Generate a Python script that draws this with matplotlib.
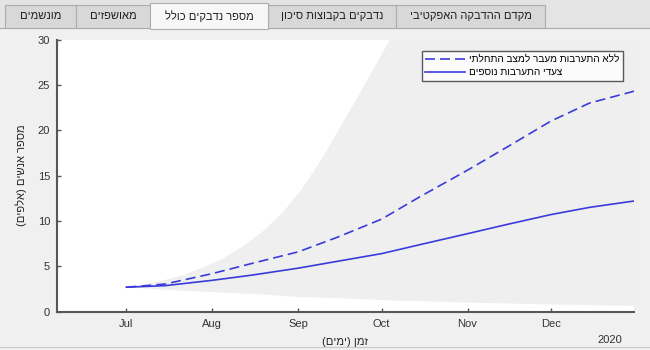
import datetime as dt
import matplotlib
matplotlib.use("Agg")
import matplotlib.pyplot as plt
import matplotlib.dates as mdates
from matplotlib.patches import Rectangle
from matplotlib.lines import Line2D

plt.rcParams['font.family'] = ['Liberation Sans', 'DejaVu Sans']

# model output, thousands of people
dates = [dt.date(2020, 7, 1), dt.date(2020, 7, 15), dt.date(2020, 8, 1), dt.date(2020, 8, 15),
         dt.date(2020, 9, 1), dt.date(2020, 9, 15), dt.date(2020, 10, 1), dt.date(2020, 10, 15),
         dt.date(2020, 11, 1), dt.date(2020, 11, 15), dt.date(2020, 12, 1), dt.date(2020, 12, 15),
         dt.date(2020, 12, 31)]
no_action = [2.7, 3.05, 4.2, 5.3, 6.6, 8.2, 10.2, 12.7, 15.6, 18.1, 21.0, 23.0, 24.3]
with_measures = [2.7, 2.87, 3.46, 4.02, 4.8, 5.55, 6.4, 7.4, 8.6, 9.6, 10.7, 11.5, 12.2]

band_dates = [dt.date(2020, 7, 1), dt.date(2020, 7, 8), dt.date(2020, 7, 15), dt.date(2020, 7, 22),
              dt.date(2020, 7, 29), dt.date(2020, 8, 5), dt.date(2020, 8, 12), dt.date(2020, 8, 19),
              dt.date(2020, 8, 26), dt.date(2020, 9, 2), dt.date(2020, 9, 9), dt.date(2020, 9, 16),
              dt.date(2020, 9, 23), dt.date(2020, 9, 30), dt.date(2020, 10, 7), dt.date(2020, 11, 1),
              dt.date(2020, 12, 1), dt.date(2020, 12, 31)]
band_hi = [2.7, 3.0, 3.5, 4.1, 4.9, 5.9, 7.2, 8.8, 10.8, 13.4, 16.6, 20.3, 24.0, 27.8, 31.6, 46.0, 64.0, 82.0]
band_lo = [2.7, 2.55, 2.42, 2.3, 2.2, 2.1, 2.0, 1.9, 1.75, 1.6, 1.55, 1.48, 1.4, 1.3, 1.22, 1.0, 0.8, 0.65]

tabs = ['מונשמים', 'מאושפזים', 'מספר נדבקים כולל', 'נדבקים בקבוצות סיכון', 'מקדם ההדבקה האפקטיבי']
tab_edges = [5, 76, 150, 268, 396, 545]
active_tab = 2

labels = ['ללא התערבות מעבר למצב התחלתי', 'צעדי התערבות נוספים']
ylabel = 'מספר אנשים (אלפים)'
xlabel = 'זמן (ימים)'

W, H = 650, 350
BG = '#f0f0f0'
BLUE = '#3b3bdc'


def rtl(s):
    # matplotlib lays text out left to right, so flip Hebrew into visual order
    swap = {'(': ')', ')': '('}
    return ''.join(swap.get(c, c) for c in reversed(s))


def fx(px):
    return px / W


def fy(py):
    return 1 - py / H


fig = plt.figure(figsize=(6.5, 3.5), dpi=100, facecolor=BG)

# tab strip
fig.add_artist(Rectangle((fx(0), fy(28)), fx(650), 28 / H, facecolor='#e4e4e4',
                         edgecolor='none', transform=fig.transFigure))
fig.add_artist(Line2D([fx(0), fx(650)], [fy(28), fy(28)], color='#acacac', lw=0.8,
                      transform=fig.transFigure))
for i, name in enumerate(tabs):
    x0, x1 = tab_edges[i], tab_edges[i + 1]
    sel = i == active_tab
    top = 3 if sel else 5
    bottom = 29 if sel else 28
    fig.add_artist(Rectangle((fx(x0), fy(bottom)), fx(x1 - x0), (bottom - top) / H,
                             facecolor='#f7f7f7' if sel else '#d8d8d8',
                             edgecolor='#acacac', lw=0.8, transform=fig.transFigure,
                             zorder=3 if sel else 2))
    fig.text(fx((x0 + x1) / 2), fy(16), rtl(name), ha='center', va='center',
             fontsize=8, color='#1e1e1e', zorder=4)

ax = fig.add_axes([fx(57), fy(311.7), fx(634 - 57), (311.7 - 39.5) / H])
ax.set_facecolor('white')

ax.fill_between(band_dates, band_lo, band_hi, color='#efefef', lw=0)
ax.plot(dates, no_action, color=BLUE, lw=1.2, ls=(0, (6, 3)), label=rtl(labels[0]))
ax.plot(dates, with_measures, color=BLUE, lw=1.2, label=rtl(labels[1]))

ax.set_xlim(dt.date(2020, 6, 6), dt.date(2020, 12, 31))
ax.set_ylim(0, 30)
ax.set_yticks(range(0, 31, 5))
ax.xaxis.set_major_locator(mdates.MonthLocator(bymonth=range(7, 13)))
ax.xaxis.set_major_formatter(mdates.DateFormatter('%b'))

for side in ['top', 'right']:
    ax.spines[side].set_visible(False)
for side in ['left', 'bottom']:
    ax.spines[side].set_color('#575757')
    ax.spines[side].set_linewidth(1.5)
ax.tick_params(direction='in', length=3, width=1, color='#575757',
               labelsize=8, labelcolor='#333333', pad=5)

ax.set_ylabel(rtl(ylabel), fontsize=8, color='#262626', labelpad=8)
ax.set_xlabel(rtl(xlabel), fontsize=8, color='#262626', labelpad=6)
fig.text(fx(622), fy(340), '2020', ha='right', va='center', fontsize=8, color='#333333')

leg = ax.legend(loc='upper right', bbox_to_anchor=((623 - 57) / 577, (311.7 - 50.7) / 272.2),
                fontsize=7.2, frameon=True, fancybox=False, borderpad=0.35, labelspacing=0.3,
                handlelength=4.0, handletextpad=0.4, borderaxespad=0)
leg.get_frame().set_edgecolor('#333333')
leg.get_frame().set_linewidth(1.0)

# panel edge across the bottom
fig.add_artist(Rectangle((0, 0), 1, 3 / H, facecolor=BG, edgecolor='none',
                         transform=fig.transFigure, zorder=10))
fig.add_artist(Line2D([0, 1], [fy(347), fy(347)], color='#c8c8c8', lw=0.8,
                      transform=fig.transFigure, zorder=11))

fig.savefig('out.png', dpi=100, facecolor=BG)
